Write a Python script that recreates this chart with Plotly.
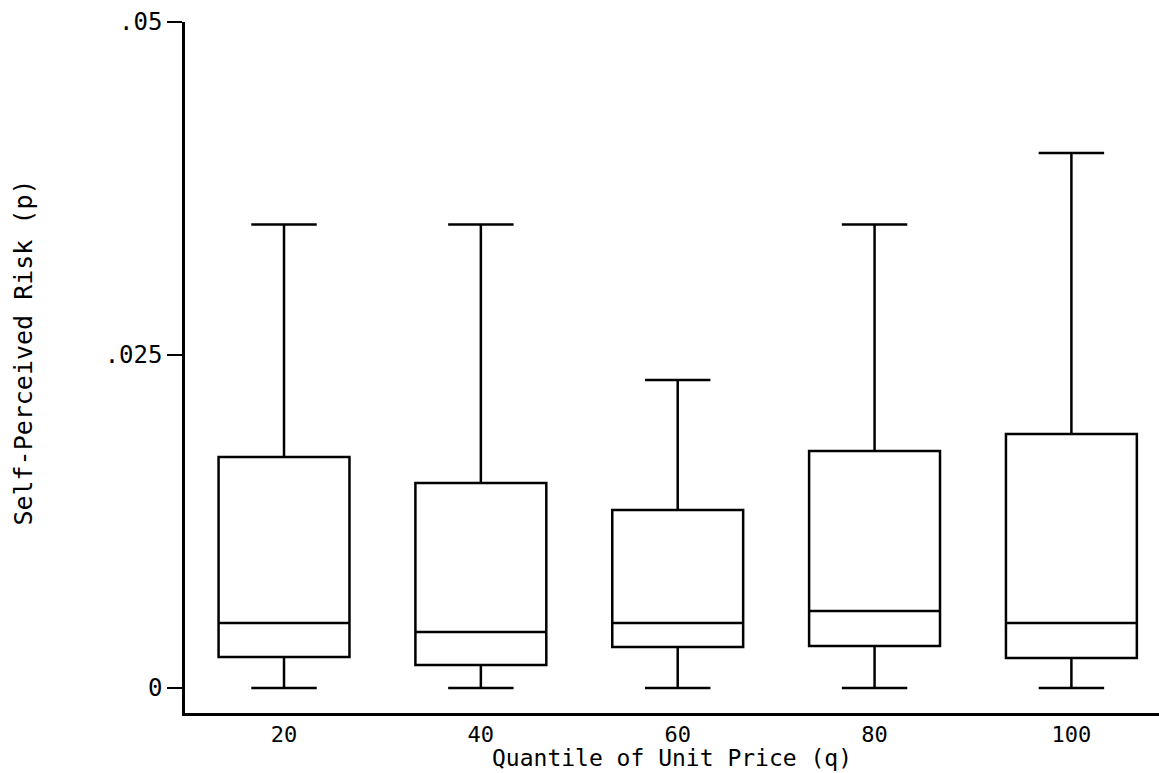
import plotly.graph_objects as go

quantiles = [20, 40, 60, 80, 100]
tick_labels = ["20", "40", "60", "80", "100"]
lower = [0.0, 0.0, 0.0, 0.0, 0.0]
q1 = [0.00233, 0.00173, 0.00308, 0.00315, 0.00225]
median = [0.00488, 0.00420, 0.00488, 0.00578, 0.00488]
q3 = [0.01734, 0.01539, 0.01336, 0.01779, 0.01907]
upper = [0.0348, 0.0348, 0.02312, 0.0348, 0.04017]

y_tickvals = [0, 0.025, 0.05]
y_ticktext = ["0", ".025", ".05"]

FONT = "DejaVu Sans Mono"

fig = go.Figure()
fig.add_trace(go.Box(
    x=quantiles,
    q1=q1, median=median, q3=q3,
    lowerfence=lower, upperfence=upper,
    width=13.3,
    whiskerwidth=0.5,
    fillcolor="white",
    line=dict(color="black", width=2.5),
    boxpoints=False,
    showlegend=False,
    hoverinfo="skip",
))

fig.update_layout(
    width=1159, height=773,
    paper_bgcolor="white", plot_bgcolor="white",
    margin=dict(l=185, r=0, t=22, b=60),
    font=dict(family=FONT, color="black", size=24),
    xaxis=dict(
        range=[9.94, 108.9],
        tickvals=quantiles, ticktext=tick_labels,
        showline=True, linecolor="black", linewidth=2.5,
        ticks="", showgrid=False, zeroline=False,
        tickfont=dict(family=FONT, size=22),
    ),
    yaxis=dict(
        range=[-0.00188, 0.05],
        tickvals=y_tickvals, ticktext=y_ticktext,
        showline=True, linecolor="black", linewidth=2.5,
        ticks="outside", ticklen=15, tickwidth=2, tickcolor="black",
        showgrid=False, zeroline=False,
        tickfont=dict(family=FONT, size=24),
    ),
    annotations=[
        dict(text="Quantile of Unit Price (q)", xref="paper", yref="paper",
             x=0.5, y=-0.0655, xanchor="center", yanchor="middle",
             showarrow=False, font=dict(family=FONT, size=23)),
        dict(text="Self-Perceived Risk (p)", xref="paper", yref="paper",
             x=-0.166, y=0.522, xanchor="center", yanchor="middle", textangle=-90,
             showarrow=False, font=dict(family=FONT, size=25)),
    ],
)

fig.write_html("out.html")
